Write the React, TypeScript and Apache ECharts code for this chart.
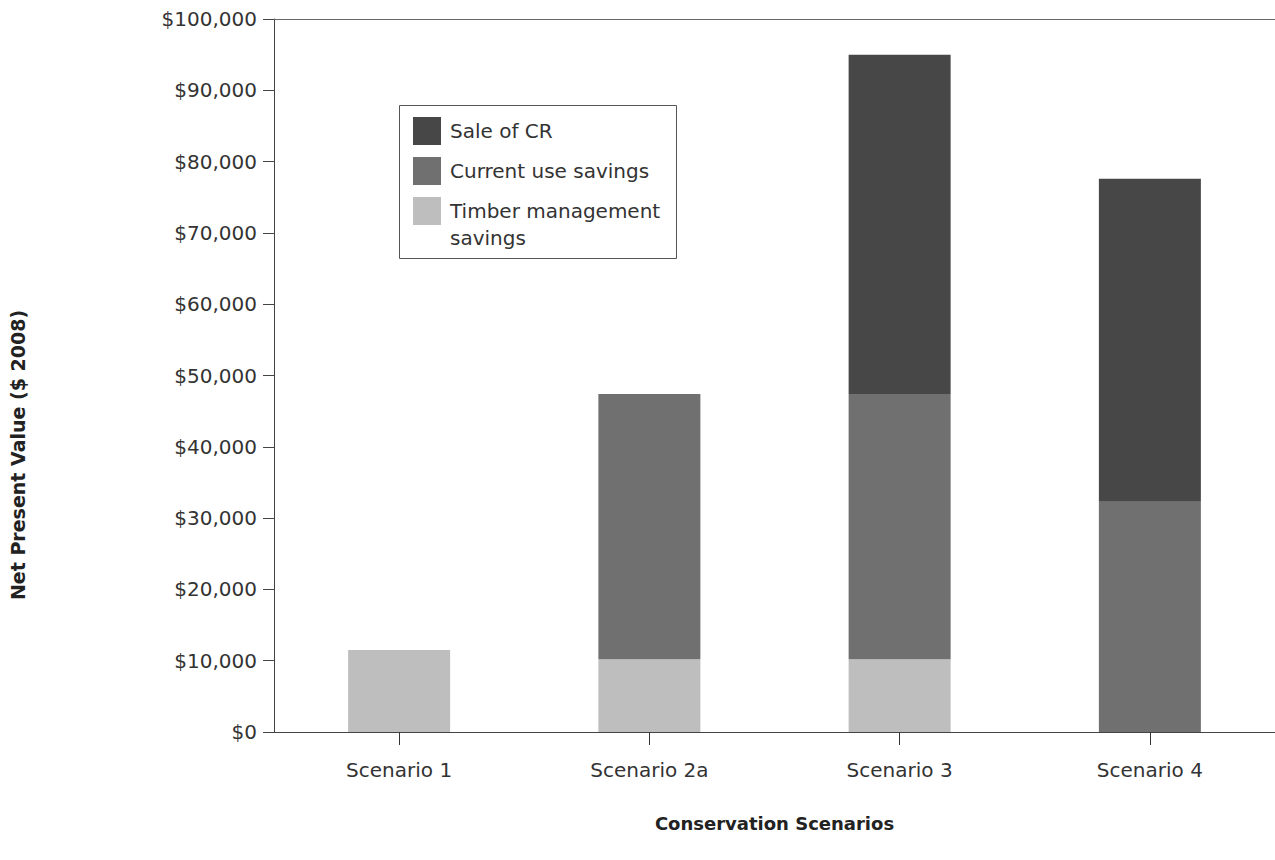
import React, { useEffect, useRef } from "react";
import * as echarts from "echarts";

const categories = ["Scenario 1", "Scenario 2a", "Scenario 3", "Scenario 4"];
const seriesNames = ["Sale of CR", "Current use savings", "Timber management savings"];
const timberSavings = [11500, 10200, 10200, 0];
const currentUseSavings = [0, 37200, 37200, 32300];
const saleOfCR = [0, 0, 47600, 45300];
const yTicks = { min: 0, max: 100000, interval: 10000 };
const colors = { sale: "#474747", current: "#707070", timber: "#bebebe" };

const FONT = "DejaVu Sans";

export default function App() {
  const ref = useRef<HTMLDivElement>(null);
  useEffect(() => {
    if (!ref.current) return;
    const chart = echarts.init(ref.current, undefined, { renderer: "svg" });
    const barBase = { type: "bar", stack: "total", barWidth: 102 };
    chart.setOption({
      animation: false,
      backgroundColor: "#ffffff",
      grid: { left: 274, top: 19, width: 1001, height: 713, containLabel: false },
      legend: {
        orient: "vertical",
        left: 413,
        top: 117,
        padding: 0,
        itemWidth: 28,
        itemHeight: 28,
        itemGap: 12,
        icon: "rect",
        selectedMode: false,
        data: seriesNames,
        formatter: (n: string) => (n === seriesNames[2] ? "Timber management" : n),
        textStyle: { fontFamily: FONT, fontSize: 20, color: "#333", padding: [0, 0, 0, 4] },
      },
      xAxis: [
        {
          type: "category",
          data: categories,
          position: "bottom",
          axisLine: { lineStyle: { color: "#444", width: 1 } },
          axisTick: { show: true, inside: false, alignWithLabel: true, length: 13, lineStyle: { color: "#333", width: 1 } },
          axisLabel: { fontFamily: FONT, fontSize: 20, color: "#333", margin: 28 },
          name: "Conservation Scenarios",
          nameLocation: "middle",
          nameGap: 82,
          nameTextStyle: { fontFamily: FONT, fontSize: 18, fontWeight: "bold", color: "#222" },
        },
        {
          type: "category",
          data: categories,
          position: "top",
          axisLine: { lineStyle: { color: "#666", width: 1 } },
          axisTick: { show: false },
          axisLabel: { show: false },
        },
      ],
      yAxis: {
        type: "value",
        min: yTicks.min,
        max: yTicks.max,
        interval: yTicks.interval,
        axisLine: { show: true, lineStyle: { color: "#444", width: 1 } },
        axisTick: { show: true, length: 11, lineStyle: { color: "#444" } },
        splitLine: { show: false },
        axisLabel: {
          fontFamily: FONT,
          fontSize: 20,
          color: "#333",
          margin: 17,
          formatter: (v: number) => "$" + v.toLocaleString("en-US"),
        },
      },
      graphic: [
        {
          type: "rect",
          shape: { x: 399.5, y: 105.5, width: 277, height: 153 },
          style: { fill: "none", stroke: "#555", lineWidth: 1 },
          z: 10,
        },
        {
          type: "text",
          x: 450,
          y: 238,
          style: { text: "savings", fontFamily: FONT, fontSize: 20, fill: "#333", verticalAlign: "middle" },
          z: 10,
        },
        {
          type: "text",
          x: 18,
          y: 455,
          rotation: Math.PI / 2,
          style: {
            text: "Net Present Value ($ 2008)",
            fontFamily: FONT,
            fontSize: 19,
            fontWeight: "bold",
            fill: "#222",
            align: "center",
            verticalAlign: "middle",
          },
        },
      ],
      series: [
        { ...barBase, name: seriesNames[2], data: timberSavings, itemStyle: { color: colors.timber } },
        { ...barBase, name: seriesNames[1], data: currentUseSavings, itemStyle: { color: colors.current } },
        { ...barBase, name: seriesNames[0], data: saleOfCR, itemStyle: { color: colors.sale } },
      ],
    });
    return () => chart.dispose();
  }, []);
  return (
    <div
      ref={ref}
      style={{ position: "absolute", left: 0, top: 0, width: 1275, height: 860 }}
    />
  );
}
